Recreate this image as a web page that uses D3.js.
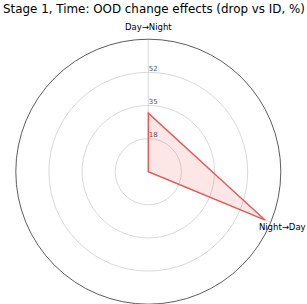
<!DOCTYPE html>
<html>
<head>
<meta charset="utf-8">
<script src="https://cdn.jsdelivr.net/npm/d3@7"></script>
<style>
  body { margin: 0; background: #fff; }
  text { font-family: "DejaVu Sans", sans-serif; }
</style>
</head>
<body>
<div class="chart"></div>
<script>
var title = "Stage 1, Time: OOD change effects (drop vs ID, %)";
var axisLabels = ["Day→Night", "Night→Day"];
var values = [30.9, 66.9];
var tickValues = [17.5, 35, 52.5];
var tickLabels = ["18", "35", "52"];
var rMax = 70;

var svgWidth = 307;
var svgHeight = 304;
var cx = 148.3;
var cy = 171.7;
var radius = 132.5;
var labelRadius = 145;
// angle of each spoke, clockwise from 12 o'clock
var angleStep = 112.5 * Math.PI / 180;

var svg = d3.select(".chart")
  .append("svg")
  .attr("width", svgWidth)
  .attr("height", svgHeight);

svg.append("text")
  .attr("x", svgWidth / 2 + 0.5)
  .attr("y", 13)
  .attr("text-anchor", "middle")
  .attr("font-size", "11.9px")
  .attr("fill", "#000")
  .text(title);

var g = svg.append("g")
  .attr("transform", `translate(${cx}, ${cy})`);

var rScale = d3.scaleLinear()
  .domain([0, rMax])
  .range([0, radius]);

var angleOf = (d, i) => i * angleStep;

// rings
g.selectAll(".ring")
  .data(tickValues)
  .enter()
  .append("circle")
  .attr("r", d => rScale(d))
  .attr("fill", "none")
  .attr("stroke", "#cfcfcf")
  .attr("stroke-width", 0.8);

// spokes
g.selectAll(".spoke")
  .data(axisLabels)
  .enter()
  .append("line")
  .attr("x1", 0)
  .attr("y1", 0)
  .attr("x2", (d, i) => rScale(rMax) * Math.sin(angleOf(d, i)))
  .attr("y2", (d, i) => -rScale(rMax) * Math.cos(angleOf(d, i)))
  .attr("stroke", "#cfcfcf")
  .attr("stroke-width", 0.8);

// outer frame
g.append("circle")
  .attr("r", rScale(rMax))
  .attr("fill", "none")
  .attr("stroke", "#333")
  .attr("stroke-width", 0.8);

// data polygon, closed through the centre
var points = [{ a: 0, r: 0 }].concat(values.map((v, i) => ({ a: angleOf(v, i), r: v })));

var radar = d3.lineRadial()
  .angle(d => d.a)
  .radius(d => rScale(d.r))
  .curve(d3.curveLinearClosed);

g.append("path")
  .datum(points)
  .attr("d", radar)
  .attr("fill", "rgba(235, 80, 80, 0.14)")
  .attr("stroke", "#e85a5a")
  .attr("stroke-width", 1.4)
  .attr("stroke-linejoin", "miter");

// radial tick labels
g.selectAll(".tick")
  .data(tickValues)
  .enter()
  .append("text")
  .attr("x", 0.5)
  .attr("y", d => -rScale(d) - 1.5)
  .attr("font-size", "7px")
  .attr("fill", "#555")
  .text((d, i) => tickLabels[i]);

// axis labels
g.selectAll(".axisLabel")
  .data(axisLabels)
  .enter()
  .append("text")
  .attr("x", (d, i) => labelRadius * Math.sin(angleOf(d, i)))
  .attr("y", (d, i) => -labelRadius * Math.cos(angleOf(d, i)))
  .attr("dy", "0.35em")
  .attr("text-anchor", "middle")
  .attr("font-size", "8.5px")
  .attr("fill", "#000")
  .text(d => d);
</script>
</body>
</html>
